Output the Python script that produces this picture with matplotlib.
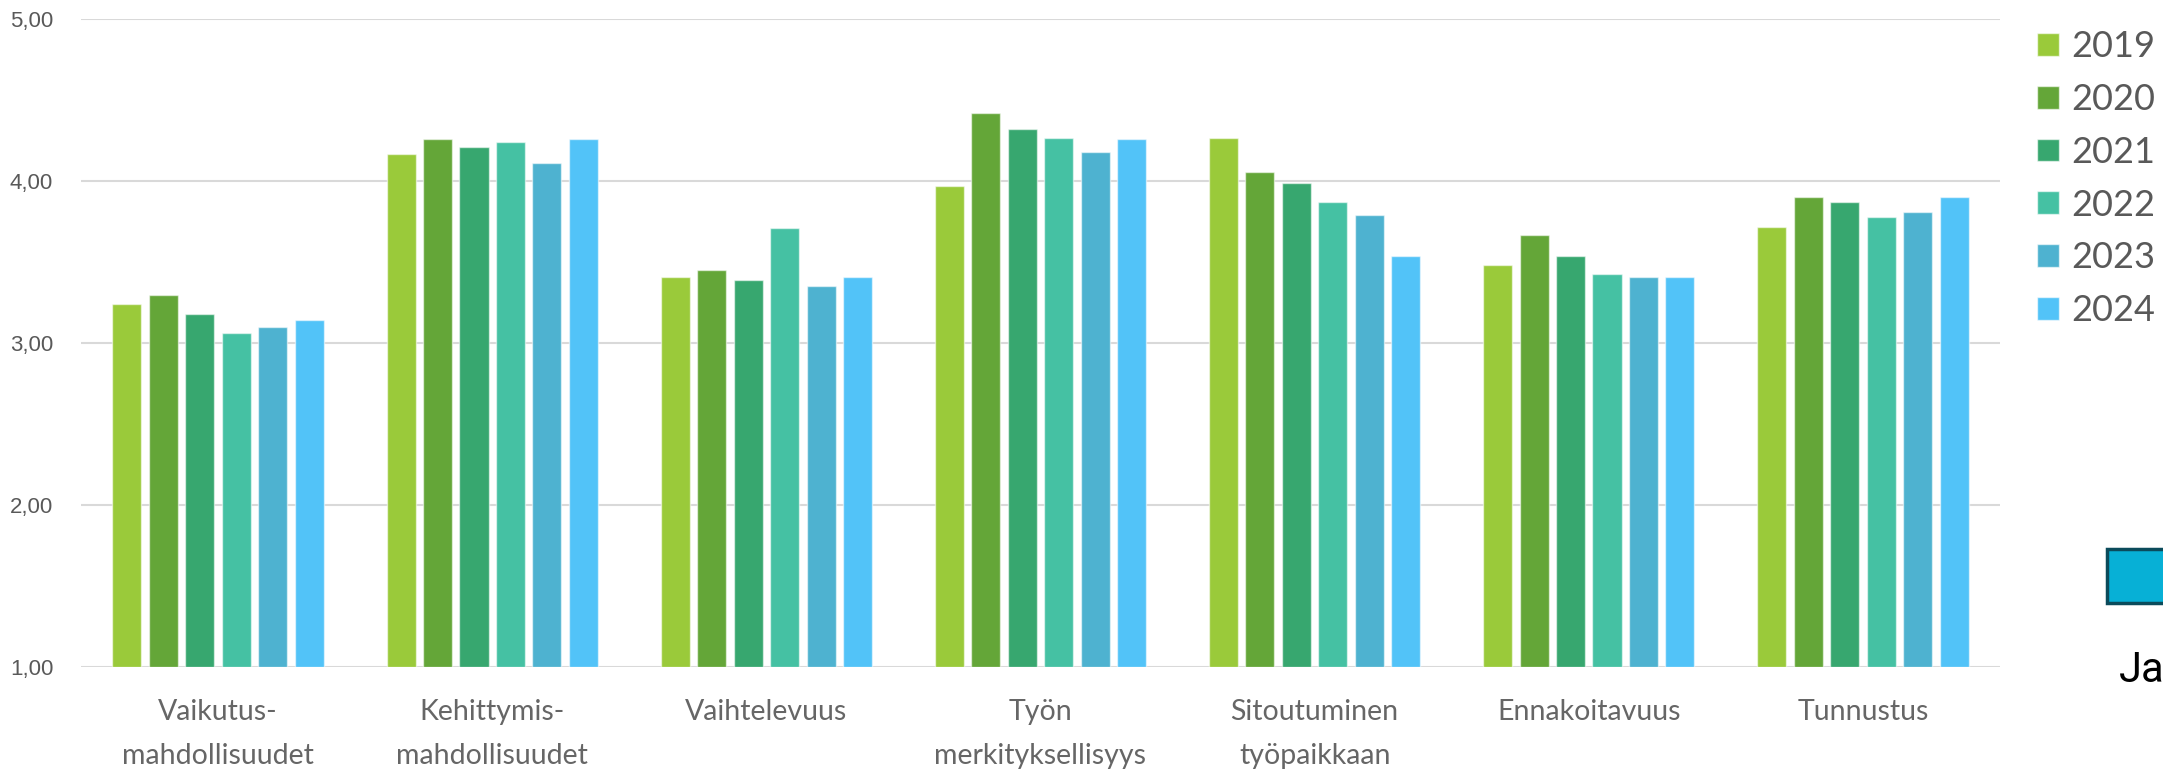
import matplotlib
matplotlib.use("Agg")
import matplotlib.pyplot as plt
from matplotlib.patches import Rectangle, Patch
import numpy as np

categories = [
    "Vaikutus-\nmahdollisuudet",
    "Kehittymis-\nmahdollisuudet",
    "Vaihtelevuus",
    "Työn\nmerkityksellisyys",
    "Sitoutuminen\ntyöpaikkaan",
    "Ennakoitavuus",
    "Tunnustus",
]
years = ["2019", "2020", "2021", "2022", "2023", "2024"]

v2019 = [3.24, 4.17, 3.41, 3.97, 4.27, 3.48, 3.72]
v2020 = [3.30, 4.26, 3.45, 4.42, 4.06, 3.67, 3.90]
v2021 = [3.18, 4.21, 3.39, 4.32, 3.99, 3.54, 3.87]
v2022 = [3.06, 4.24, 3.71, 4.27, 3.87, 3.43, 3.78]
v2023 = [3.10, 4.11, 3.35, 4.18, 3.79, 3.41, 3.81]
v2024 = [3.14, 4.26, 3.41, 4.26, 3.54, 3.41, 3.90]
series = [v2019, v2020, v2021, v2022, v2023, v2024]

colors = ["#9ACA3A", "#64A638", "#37A76F", "#45C1A3", "#4EB2D0", "#52C3F8"]
yticks = [1, 2, 3, 4, 5]
ytick_labels = ["1,00", "2,00", "3,00", "4,00", "5,00"]

W, H = 2163, 774
fig = plt.figure(figsize=(W / 100, H / 100), dpi=100)
fig.patch.set_facecolor("white")

left, right = 81, 2000
top, bottom = 19.3, 667
ax = fig.add_axes([left / W, 1 - bottom / H, (right - left) / W, (bottom - top) / H])

x = np.arange(len(categories))
slot = 0.133
width = 0.106
for i, (vals, c) in enumerate(zip(series, colors)):
    offs = (i - 2.5) * slot
    ax.bar(x + offs, np.array(vals) - 1, bottom=1, width=width, color=c,
           edgecolor=(1, 1, 1, 0.55), linewidth=1.0, zorder=3)

ax.set_xlim(-0.5, len(categories) - 0.5)
ax.set_ylim(1, 5)
ax.set_yticks(yticks)
ax.set_yticklabels(ytick_labels)
ax.yaxis.grid(True, color="#D9D9D9", linewidth=1.5, zorder=0)
ax.set_axisbelow(True)
for s in ax.spines.values():
    s.set_visible(False)
ax.tick_params(axis="y", length=0, pad=20, labelsize=16, labelcolor="#595959")
for lab in ax.get_yticklabels():
    lab.set_family("Liberation Sans")

ax.set_xticks(x)
ax.set_xticklabels(categories, fontsize=20.5, color="#666666", family="Lato",
                   fontweight="normal", linespacing=1.85)
ax.tick_params(axis="x", length=0, pad=23)

handles = [Patch(facecolor=c, edgecolor=(1, 1, 1, 0.6), linewidth=1.0) for c in colors]
leg = fig.legend(handles, years, loc="upper left",
                 bbox_to_anchor=(2037 / W, 1 - 30 / H), frameon=False,
                 prop={"family": "Lato", "size": 26}, labelcolor="#595959",
                 handlelength=0.6, handleheight=0.6, handletextpad=0.35,
                 labelspacing=0.55, borderpad=0, borderaxespad=0)

# cyan box and caption at the right edge
fig.patches.append(Rectangle((2107 / W, 1 - 603 / H), 80 / W, 54 / H,
                             transform=fig.transFigure, facecolor="#07B0D6",
                             edgecolor="#0B4B5B", linewidth=2.5))
fig.text(2119 / W, 1 - 682 / H, "Ja", fontsize=30, color="black", family="Roboto")

fig.savefig("out.png", dpi=100, facecolor="white")
